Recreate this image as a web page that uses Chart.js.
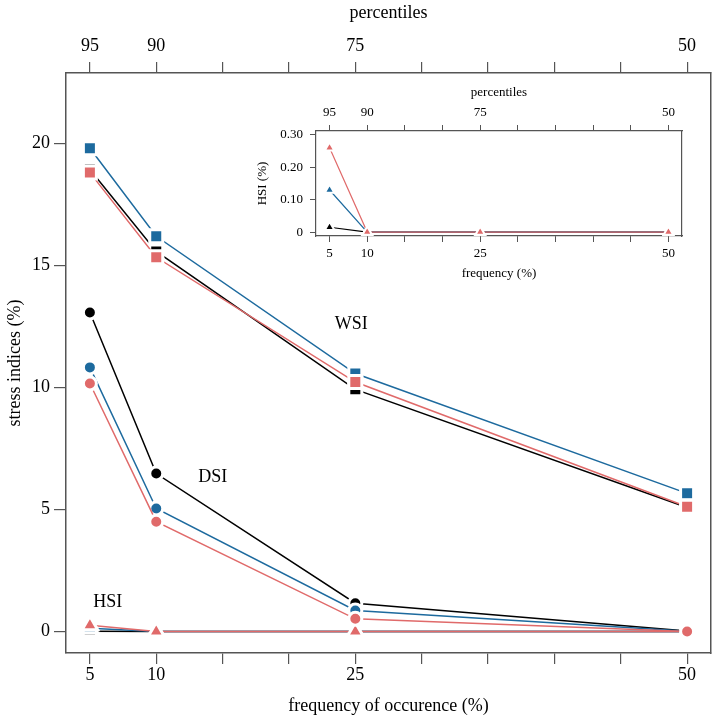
<!DOCTYPE html>
<html>
<head>
<meta charset="utf-8">
<script src="https://cdn.jsdelivr.net/npm/chart.js@4.4.1/dist/chart.umd.min.js"></script>
<style>
  body { margin: 0; background: #fff; overflow: hidden; }
  #wrap { position: relative; width: 713px; height: 717px; overflow: hidden; }
  #main { position: absolute; left: 0; top: 0; }
  #inset { position: absolute; left: 250px; top: 80px; }
</style>
</head>
<body>
<div id="wrap">
  <canvas id="main" width="713" height="717"></canvas>
  <canvas id="inset" width="445" height="205"></canvas>
</div>
<script>
// Datos
const freq = [5, 10, 25, 50];
const pctl = [95, 90, 75, 50];
const xTicks = [5, 10, 15, 20, 25, 30, 35, 40, 45, 50];
const yTicks = [0, 5, 10, 15, 20];

const wsiBlack = [18.93, 15.57, 9.92, 5.08];
const wsiBlue = [19.8, 16.19, 10.57, 5.66];
const wsiRed = [18.8, 15.33, 10.22, 5.11];

const dsiBlack = [13.07, 6.47, 1.16, 0.02];
const dsiBlue = [10.82, 5.04, 0.86, 0.01];
const dsiRed = [10.16, 4.5, 0.52, 0.0];

const hsiBlack = [0.015, 0, 0, 0];
const hsiBlue = [0.13, 0, 0, 0];
const hsiRed = [0.26, 0, 0, 0];

// Etiquetas de texto dentro del gráfico
const noteText = ['WSI', 'DSI', 'HSI'];
const noteX = [24.7, 14.25, 6.35];
const noteY = [12.6, 6.3, 1.2];

// Inset
const insetYTicks = [0, 0.05, 0.1, 0.15, 0.2, 0.25, 0.3];
const insetYLabels = ['0', '', '0.10', '', '0.20', '', '0.30'];

const BLACK = '#000000';
const BLUE = '#1d6a9e';
const RED = '#e06a6a';
const AXIS = '#555555';
const FONT = 'Liberation Serif, Times New Roman, serif';

function pts(ys) {
    return freq.map((f, i) => ({ x: f, y: ys[i] }));
}

function series(ys, color, style, radius, border, order) {
    return {
        data: pts(ys),
        borderColor: color,
        backgroundColor: color,
        borderWidth: 1.5,
        pointStyle: style,
        pointRadius: radius,
        pointBackgroundColor: color,
        pointBorderColor: '#ffffff',
        pointBorderWidth: border,
        tension: 0,
        clip: false,
        order: order
    };
}

function fixX(h) {
    return s => { s.height = h; s.paddingLeft = 0; s.paddingRight = 0; };
}

// Plugin para las etiquetas WSI / DSI / HSI
const notesPlugin = {
    id: 'notes',
    afterDatasetsDraw(chart) {
        const ctx = chart.ctx;
        const xs = chart.scales.x, ys = chart.scales.y;
        ctx.save();
        ctx.fillStyle = '#000';
        ctx.font = '18px ' + FONT;
        ctx.textAlign = 'center';
        ctx.textBaseline = 'middle';
        noteText.forEach((t, i) => {
            ctx.fillText(t, xs.getPixelForValue(noteX[i]), ys.getPixelForValue(noteY[i]));
        });
        ctx.restore();
    }
};

const mainFont = { family: FONT, size: 18 };

new Chart(document.getElementById('main'), {
    type: 'line',
    data: {
        datasets: [
            series(wsiRed, RED, 'rect', 9.2, 3, 0),
            series(wsiBlue, BLUE, 'rect', 9.2, 3, 1),
            series(wsiBlack, BLACK, 'rect', 9.2, 3, 2),
            series(dsiRed, RED, 'circle', 6.5, 3, 0),
            series(dsiBlue, BLUE, 'circle', 6.5, 3, 1),
            series(dsiBlack, BLACK, 'circle', 6.5, 3, 2),
            series(hsiRed, RED, 'triangle', 9, 3, 0),
            series(hsiBlue, BLUE, 'triangle', 9, 3, 1),
            series(hsiBlack, BLACK, 'triangle', 9, 3, 2)
        ]
    },
    options: {
        responsive: false,
        animation: false,
        devicePixelRatio: 1,
        layout: { padding: 0, autoPadding: false },
        plugins: { legend: { display: false }, tooltip: { enabled: false } },
        scales: {
            x: {
                type: 'linear', position: 'bottom', min: 3.2, max: 51.8,
                afterBuildTicks: s => { s.ticks = xTicks.map(v => ({ value: v })); },
                afterFit: fixX(64),
                ticks: {
                    color: '#000', font: mainFont, padding: 0, maxRotation: 0, autoSkip: false,
                    callback: v => freq.includes(v) ? String(v) : ''
                },
                grid: { drawOnChartArea: false, drawTicks: true, tickLength: 11, color: AXIS, lineWidth: 1.2 },
                border: { display: true, color: AXIS, width: 1.5 },
                title: { display: true, text: 'frequency of occurence (%)', color: '#000', font: mainFont, padding: { top: 0, bottom: 0 } }
            },
            x2: {
                type: 'linear', position: 'top', min: 3.2, max: 51.8,
                afterBuildTicks: s => { s.ticks = xTicks.map(v => ({ value: v })); },
                afterFit: fixX(73),
                ticks: {
                    color: '#000', font: mainFont, padding: 5, maxRotation: 0, autoSkip: false,
                    callback: v => freq.includes(v) ? String(pctl[freq.indexOf(v)]) : ''
                },
                grid: { drawOnChartArea: false, drawTicks: true, tickLength: 11, color: AXIS, lineWidth: 1.2 },
                border: { display: true, color: AXIS, width: 1.5 },
                title: { display: true, text: 'percentiles', color: '#000', font: mainFont, padding: { top: 2, bottom: 0 } }
            },
            y: {
                type: 'linear', position: 'left', min: -0.88, max: 22.88,
                afterBuildTicks: s => { s.ticks = yTicks.map(v => ({ value: v })); },
                afterFit: s => { s.width = 66; },
                ticks: { color: '#000', font: mainFont, padding: 4, callback: v => String(v) },
                grid: { drawOnChartArea: false, drawTicks: true, tickLength: 12, color: AXIS, lineWidth: 1.2 },
                border: { display: true, color: AXIS, width: 1.5 },
                title: { display: true, text: 'stress indices (%)', color: '#000', font: mainFont, padding: { top: 4, bottom: 0 } }
            },
            y2: {
                type: 'linear', position: 'right', min: -0.88, max: 22.88,
                afterFit: s => { s.width = 2; },
                ticks: { display: false },
                grid: { display: false, drawTicks: false },
                border: { display: true, color: AXIS, width: 1.5 }
            }
        }
    },
    plugins: [notesPlugin]
});

// Gráfico pequeño (HSI)
const insetFont = { family: FONT, size: 13 };

new Chart(document.getElementById('inset'), {
    type: 'line',
    data: {
        datasets: [
            series(hsiRed, RED, 'triangle', 5.5, 2, 0),
            series(hsiBlue, BLUE, 'triangle', 5.5, 2, 1),
            series(hsiBlack, BLACK, 'triangle', 5.5, 2, 2)
        ].map(d => Object.assign(d, { borderWidth: 1.2 }))
    },
    options: {
        responsive: false,
        animation: false,
        devicePixelRatio: 1,
        layout: { padding: 0, autoPadding: false },
        plugins: { legend: { display: false }, tooltip: { enabled: false } },
        scales: {
            x: {
                type: 'linear', position: 'bottom', min: 3.2, max: 51.8,
                afterBuildTicks: s => { s.ticks = xTicks.map(v => ({ value: v })); },
                afterFit: fixX(49),
                ticks: {
                    color: '#000', font: insetFont, padding: 4, maxRotation: 0, autoSkip: false,
                    callback: v => freq.includes(v) ? String(v) : ''
                },
                grid: { drawOnChartArea: false, drawTicks: true, tickLength: 6, color: AXIS },
                border: { display: true, color: AXIS, width: 1.2 },
                title: { display: true, text: 'frequency (%)', color: '#000', font: insetFont, padding: { top: 0, bottom: 4 } }
            },
            x2: {
                type: 'linear', position: 'top', min: 3.2, max: 51.8,
                afterBuildTicks: s => { s.ticks = xTicks.map(v => ({ value: v })); },
                afterFit: fixX(51),
                ticks: {
                    color: '#000', font: insetFont, padding: 5, maxRotation: 0, autoSkip: false,
                    callback: v => freq.includes(v) ? String(pctl[freq.indexOf(v)]) : ''
                },
                grid: { drawOnChartArea: false, drawTicks: true, tickLength: 6, color: AXIS },
                border: { display: true, color: AXIS, width: 1.2 },
                title: { display: true, text: 'percentiles', color: '#000', font: insetFont, padding: { top: 5, bottom: 0 } }
            },
            y: {
                type: 'linear', position: 'left', min: -0.012, max: 0.312,
                afterBuildTicks: s => { s.ticks = insetYTicks.map(v => ({ value: v })); },
                afterFit: s => { s.width = 66; },
                ticks: {
                    color: '#000', font: insetFont, padding: 7,
                    callback: (v, i) => insetYLabels[i]
                },
                grid: { drawOnChartArea: false, drawTicks: true, tickLength: 6, color: AXIS },
                border: { display: true, color: AXIS, width: 1.2 },
                title: { display: true, text: 'HSI (%)', color: '#000', font: insetFont, padding: { top: 5, bottom: 0 } }
            },
            y2: {
                type: 'linear', position: 'right', min: -0.012, max: 0.312,
                afterFit: s => { s.width = 13; },
                ticks: { display: false },
                grid: { display: false, drawTicks: false },
                border: { display: true, color: AXIS, width: 1.2 }
            }
        }
    }
});
</script>
</body>
</html>
